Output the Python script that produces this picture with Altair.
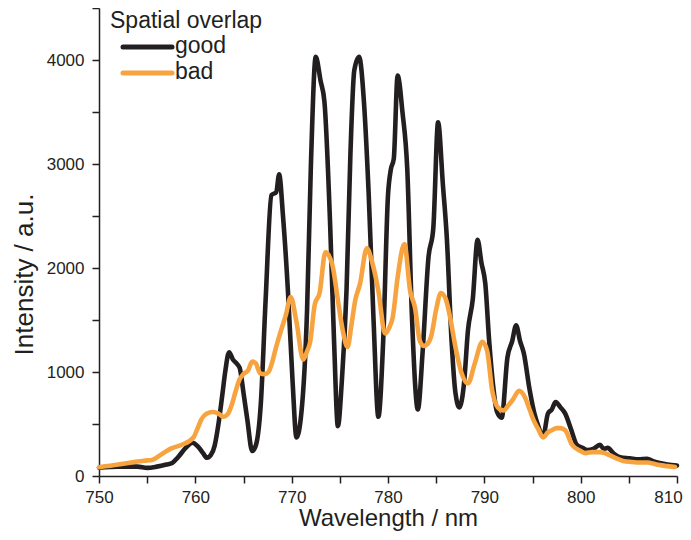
import altair as alt
import pandas as pd

# ---- data ----
series_names = ["good", "bad"]
legend_title = "Spatial overlap"
x_title = "Wavelength / nm"
y_title = "Intensity / a.u."

x_good = [750, 752, 754, 755, 756, 757, 757.6, 758.2, 759, 759.7, 760.3, 760.8, 761.2, 761.6,
          762.0, 762.4, 762.8, 763.1, 763.5, 763.9, 764.3, 764.6, 765.0, 765.4, 765.9, 766.3,
          766.8, 767.3, 767.9, 768.4, 768.7, 769.1, 769.6, 770.1, 770.5, 771.0, 771.6, 772.0,
          772.5, 773.0, 773.4, 774.0, 774.4, 774.8, 775.2, 775.7, 776.1, 776.5, 777.0, 777.5,
          778.0, 778.5, 779.0, 779.5, 780.0, 780.3, 780.6, 781.0, 781.5, 782.0, 782.5, 783.1,
          783.6, 784.2, 784.7, 785.2, 785.7, 786.1, 786.6, 787.0, 787.4, 787.9, 788.3, 788.8,
          789.3, 789.7, 790.1, 790.5, 790.9, 791.3, 791.8, 792.4, 792.9, 793.3, 793.7, 794.1,
          794.7, 795.2, 795.6, 796.1, 796.6, 797.0, 797.4, 797.9, 798.4, 799.0, 799.6, 800.2,
          800.7, 801.3, 802.0, 802.4, 802.8, 803.5, 804.1, 805.1, 806.0, 806.9, 807.6, 808.2,
          809.0, 810.0]
y_good = [80, 90, 90, 78, 90, 110, 125, 180, 270, 320, 280, 220, 175, 200,
          290, 500, 780, 1000, 1190, 1120, 1080, 1040, 800, 540, 240, 300,
          700, 1700, 2700, 2730, 2900, 2500, 1800, 900, 370, 600, 1600, 3000,
          4030, 3800, 3600, 2400, 1300, 480, 900, 1800, 3100, 3900, 4030, 3600,
          2700, 1500, 570, 1300, 2700, 2950, 3050, 3850, 3500, 2950, 1500, 640,
          1200, 2100, 2380, 3400, 2800, 2300, 1300, 800, 660, 900, 1400, 1700,
          2270, 2050, 1850, 1300, 880, 620, 560, 1140, 1300, 1450, 1300, 1180,
          830, 600, 480, 380, 600, 640, 710, 660, 600, 450, 300, 270,
          250, 260, 300, 260, 270, 210, 180, 170, 160, 165, 140, 125,
          110, 100]

x_bad = [750, 752, 754, 755, 755.5, 756.5, 757.5, 758.6, 759.8, 760.2, 760.6, 761.2, 761.8,
         762.4, 762.9, 763.4, 763.8, 764.2, 764.6, 765.0, 765.5, 765.9, 766.3, 766.7, 767.2,
         767.6, 768.0, 768.3, 768.8, 769.4, 769.9, 770.5, 771.2, 771.6, 771.9, 772.4, 772.9,
         773.5, 774.2, 774.8, 775.3, 775.8, 776.2, 776.6, 777.1, 777.8, 778.4, 779.0, 779.7,
         780.1, 780.5, 781.0, 781.7, 782.3, 782.8, 783.3, 783.7, 784.1, 784.5, 785.0, 785.5,
         786.0, 786.5, 787.0, 787.6, 788.3, 789.0, 789.8, 790.3, 790.8, 791.4, 792.0, 792.5,
         793.0, 793.6, 794.2, 794.7, 795.1, 795.6, 796.1, 796.6, 797.0, 797.5, 797.9, 798.4,
         799.1, 800.0, 800.5, 801.2, 802.0, 802.5, 803.0, 803.7, 804.4, 805.3, 806.2, 807.0,
         807.5, 808.2, 809.0, 809.8]
y_bad = [85, 110, 140, 150, 155, 210, 265, 300, 370, 450, 540, 600, 615,
         600, 570, 600, 690, 820, 930, 980, 1020, 1100, 1080, 990, 980,
         1000, 1100, 1210, 1370, 1550, 1720, 1480, 1120, 1200, 1280, 1650, 1760,
         2150, 2040, 1690, 1400, 1240, 1450, 1690, 1850, 2190, 2040, 1780, 1370,
         1420, 1530, 1910, 2230, 1780, 1620, 1300, 1250, 1270, 1350, 1600, 1760,
         1700, 1500, 1240, 1000, 890, 1080, 1290, 1200, 830, 660, 630, 680,
         740, 820, 760, 640, 540, 450, 370, 420, 440, 460, 460, 440,
         300, 240, 220, 230, 230, 220, 200, 170, 145, 135, 130, 130,
         120, 105, 95, 86]

x_ticks = list(range(750, 811, 5))
y_ticks = list(range(0, 4501, 500))

colors = ["#231f20", "#f7a440"]
FONT = "Liberation Sans"

df = pd.concat([
    pd.DataFrame({"wavelength": x_good, "intensity": y_good, "series": series_names[0]}),
    pd.DataFrame({"wavelength": x_bad, "intensity": y_bad, "series": series_names[1]}),
])

x_enc = alt.X("wavelength:Q",
              scale=alt.Scale(domain=[750, 810], nice=False, zero=False),
              axis=alt.Axis(values=x_ticks, title=x_title, labelFlush=False,
                            labelExpr="datum.value % 10 == 0 ? datum.label : ''",
                            labelOffset={"condition": {"test": "datum.value == 810", "value": -9},
                                         "value": 0},
                            labelPadding=6, titlePadding=1, titleFontSize=24))
y_enc = alt.Y("intensity:Q",
              scale=alt.Scale(domain=[0, 4500], nice=False),
              axis=alt.Axis(values=y_ticks, title=y_title, format="d", labelFlush=False,
                            labelExpr="datum.value % 1000 == 0 ? datum.label : ''",
                            labelPadding=8, titleFontSize=26,
                            titleX=-67, titleY=266, titleBaseline="alphabetic"))
color_enc = alt.Color("series:N", scale=alt.Scale(domain=series_names, range=colors), legend=None)

layers = []
for name in series_names:
    layers.append(
        alt.Chart(df).transform_filter(alt.datum.series == name)
        .mark_line(strokeWidth=4.6, interpolate="monotone", strokeCap="round", strokeJoin="round")
        .encode(x=x_enc, y=y_enc, color=color_enc)
    )

one = pd.DataFrame({"k": [0]})
# legend (drawn manually inside the plot)
layers.append(alt.Chart(one).mark_text(align="left", baseline="alphabetic", fontSize=23,
                                        font=FONT, color="#231f20")
              .encode(x=alt.value(11), y=alt.value(20), text=alt.value(legend_title)))
for i, name in enumerate(series_names):
    layers.append(alt.Chart(one).mark_rule(strokeWidth=5, strokeCap="round")
                  .encode(x=alt.value(24), x2=alt.value(73), y=alt.value(39 + 26 * i),
                          color=alt.value(colors[i])))
    layers.append(alt.Chart(one).mark_text(align="left", baseline="alphabetic", fontSize=23,
                                            font=FONT, color="#231f20")
                  .encode(x=alt.value(76), y=alt.value(45 + 26 * i), text=alt.value(name)))

chart = alt.layer(*layers).properties(
    width=578, height=468,
    padding={"left": 91, "top": 0, "right": 6, "bottom": 56},
    autosize=alt.AutoSizeParams(type="none"),
).configure_view(stroke=None).configure_axis(
    grid=False,
    domainColor="#231f20", domainWidth=1.5,
    tickColor="#231f20", tickWidth=1.5, tickSize=7,
    labelFont=FONT, labelFontSize=17, labelColor="#231f20",
    titleFont=FONT, titleColor="#231f20", titleFontWeight="normal",
)

chart.save("out.html", embed_options={"renderer": "svg", "actions": False})
